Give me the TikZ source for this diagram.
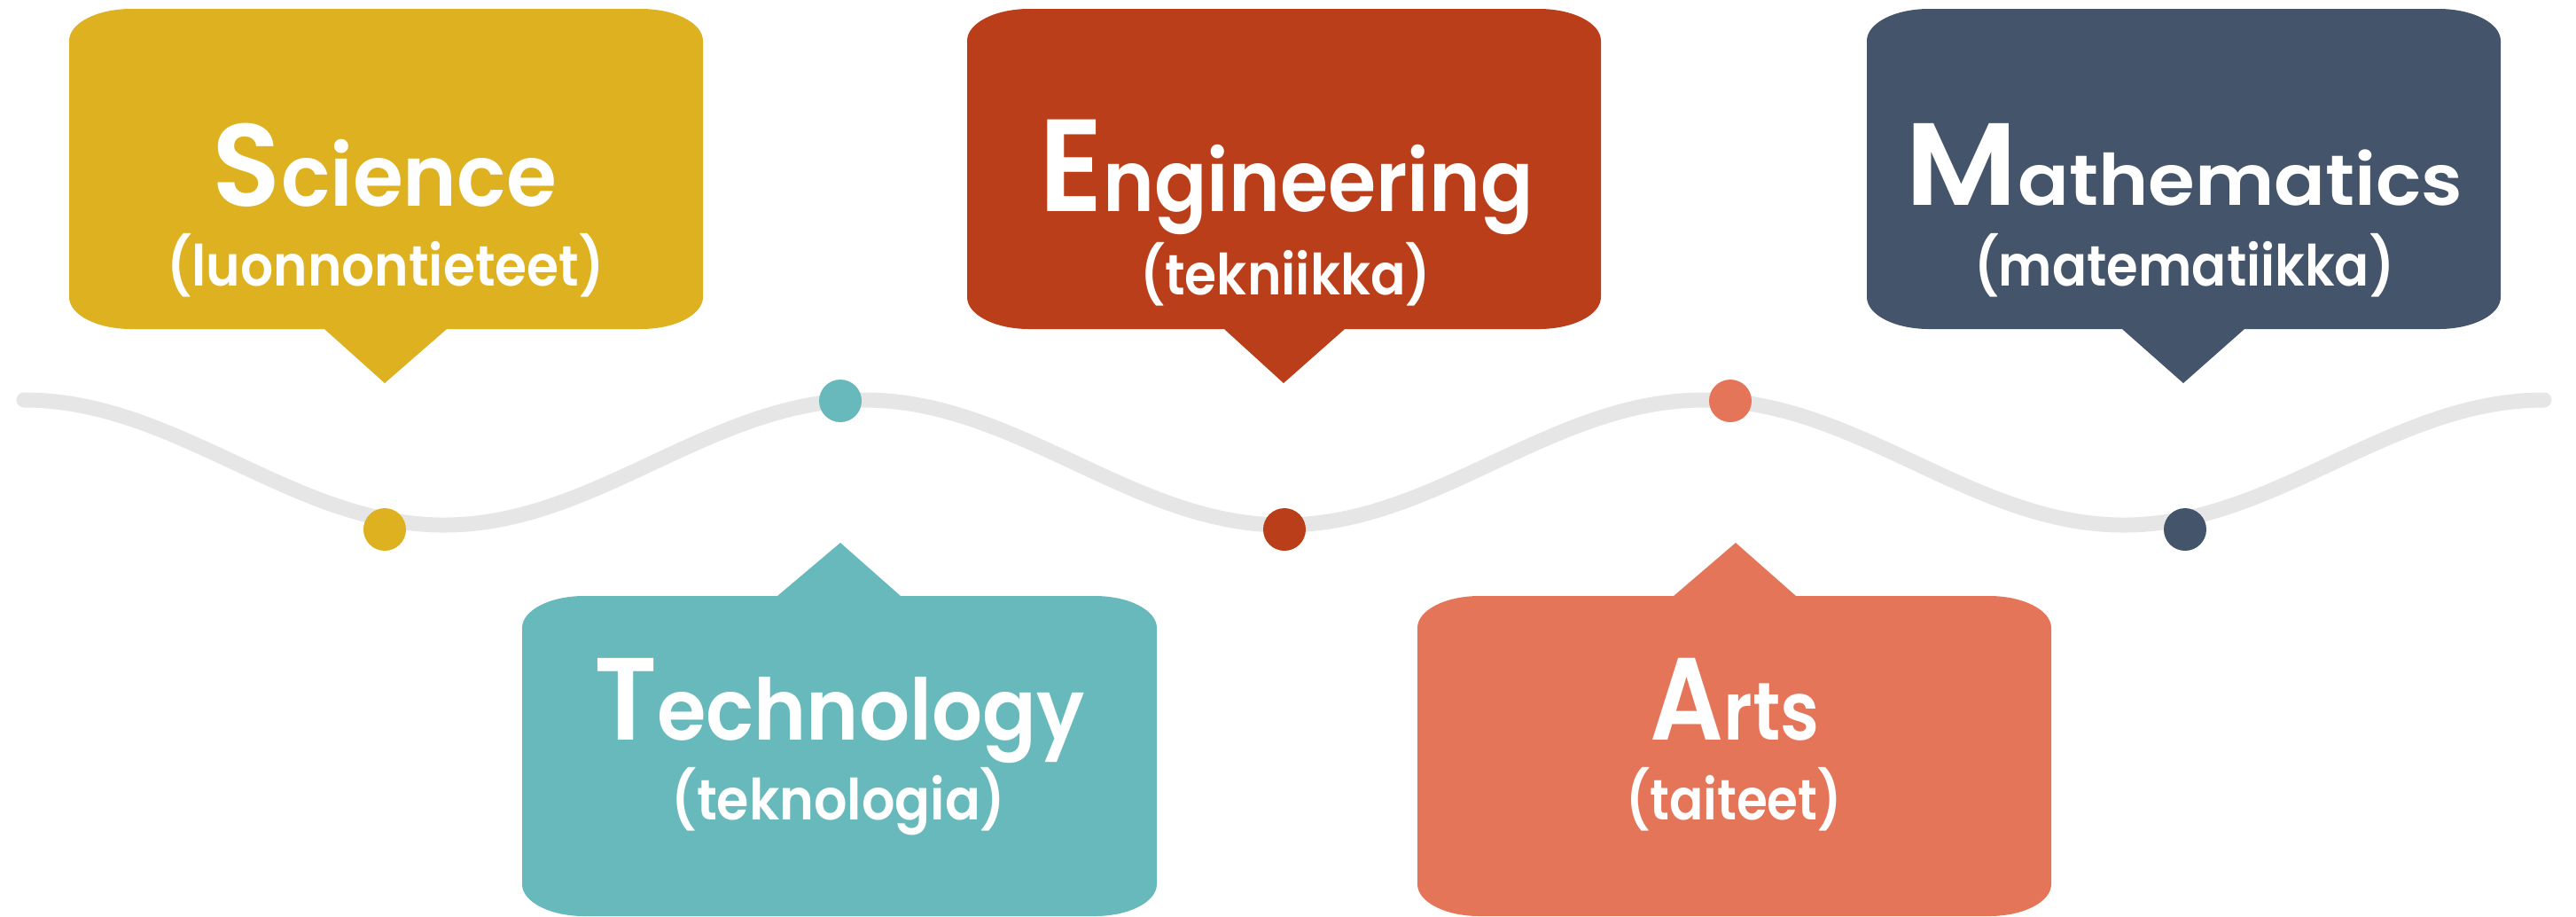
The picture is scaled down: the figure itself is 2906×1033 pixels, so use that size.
\documentclass[tikz,border=0pt]{standalone}
\usepackage{graphicx}
\usepackage{fontspec}
\setmainfont{Poppins}
\newfontfamily\popsb{Poppins SemiBold}
\definecolor{cSci}{HTML}{DEB120}
\definecolor{cTec}{HTML}{67B9BB}
\definecolor{cEng}{HTML}{BB3E1A}
\definecolor{cArt}{HTML}{E57559}
\definecolor{cMat}{HTML}{44546A}
\definecolor{cWave}{HTML}{E6E6E6}
% title: width, big size, first letter, small size, rest
\newcommand\ttl[5]{\resizebox{#1}{\height}{\popsb\fontsize{#2}{#2}\selectfont #3\fontsize{#4}{#4}\selectfont #5}}
\newcommand\subt[2]{\resizebox{#1}{\height}{\popsb\fontsize{16pt}{16pt}\selectfont #2}}
% balloon with pointer below: x1 y1 x2 y2 bx1 bx2 tipx tipy
\newcommand\balDown[9]{%
  \fill[#9] ({#1+70},#2) -- ({#3-70},#2)
    .. controls ({#3-31.3},#2) and (#3,{#2+16.1}) .. (#3,{#2+36})
    -- (#3,{#4-36})
    .. controls (#3,{#4-16.1}) and ({#3-31.3},#4) .. ({#3-70},#4)
    -- (#6,#4) -- (#7,#8) -- (#5,#4) -- ({#1+70},#4)
    .. controls ({#1+31.3},#4) and (#1,{#4-16.1}) .. (#1,{#4-36})
    -- (#1,{#2+36})
    .. controls (#1,{#2+16.1}) and ({#1+31.3},#2) .. cycle;}
% balloon with pointer above
\newcommand\balUp[9]{%
  \fill[#9] ({#1+70},#2) -- (#5,#2) -- (#7,#8) -- (#6,#2) -- ({#3-70},#2)
    .. controls ({#3-31.3},#2) and (#3,{#2+16.1}) .. (#3,{#2+36})
    -- (#3,{#4-36})
    .. controls (#3,{#4-16.1}) and ({#3-31.3},#4) .. ({#3-70},#4)
    -- ({#1+70},#4)
    .. controls ({#1+31.3},#4) and (#1,{#4-16.1}) .. (#1,{#4-36})
    -- (#1,{#2+36})
    .. controls (#1,{#2+16.1}) and ({#1+31.3},#2) .. cycle;}
\begin{document}
\begin{tikzpicture}[x=0.25pt,y=-0.25pt,
  txt/.style={inner sep=0pt,outer sep=0pt,anchor=base,text=white},
  dot/.style={circle,inner sep=0pt,minimum size=12pt}]
\useasboundingbox (0,0) rectangle (2906,1033);
\fill[white] (0,0) rectangle (2906,1033);

% wave
\draw[cWave,line width=4.25pt,line cap=round]
  (27,451) cos (263.9,521.2) sin (500.8,592) cos (737.7,521.2) sin (974.5,451)
  cos (1211.4,521.2) sin (1448.3,592) cos (1685.2,521.2) sin (1922,451)
  cos (2158.9,521.2) sin (2395.8,592) cos (2632.7,521.2) sin (2870,451);

% balloons
\balDown{78}{10}{793}{371}{366}{504}{434}{432}{cSci}
\balDown{1091}{10}{1806}{371}{1381}{1517}{1448}{432}{cEng}
\balDown{2106}{10}{2821}{371}{2394}{2532}{2463}{432}{cMat}
\balUp{589}{672}{1305}{1033}{877}{1016}{948}{612}{cTec}
\balUp{1599}{672}{2314}{1033}{1888}{2026}{1958}{612}{cArt}

% dots
\node[dot,fill=cSci] (dS) at (434,597) {};
\node[dot,fill=cTec] (dT) at (948,452) {};
\node[dot,fill=cEng] (dE) at (1449,597) {};
\node[dot,fill=cArt] (dA) at (1952,452) {};
\node[dot,fill=cMat] (dM) at (2465,597) {};

% texts
\node[txt] (tS) at (434,232) {\ttl{97pt}{33pt}{S}{24pt}{cience}};
\node[txt] (sS) at (435,322) {\subt{123.25pt}{(luonnontieteet)}};
\node[txt] (tE) at (1451,238) {\ttl{139.25pt}{37pt}{E}{24pt}{ngineering}};
\node[txt] (sE) at (1450,332) {\subt{82pt}{(tekniikka)}};
\node[txt] (tM) at (2464,231) {\ttl{157.25pt}{33pt}{M}{20pt}{athematics}};
\node[txt] (sM) at (2464,322) {\subt{118.5pt}{(matematiikka)}};
\node[txt] (tT) at (947,834) {\ttl{138.5pt}{33pt}{T}{24pt}{echnology}};
\node[txt] (sT) at (946,924) {\subt{94.25pt}{(teknologia)}};
\node[txt] (tA) at (1957,834) {\ttl{47.75pt}{33pt}{A}{23pt}{rts}};
\node[txt] (sA) at (1956,924) {\subt{61pt}{(taiteet)}};
\end{tikzpicture}
\end{document}
